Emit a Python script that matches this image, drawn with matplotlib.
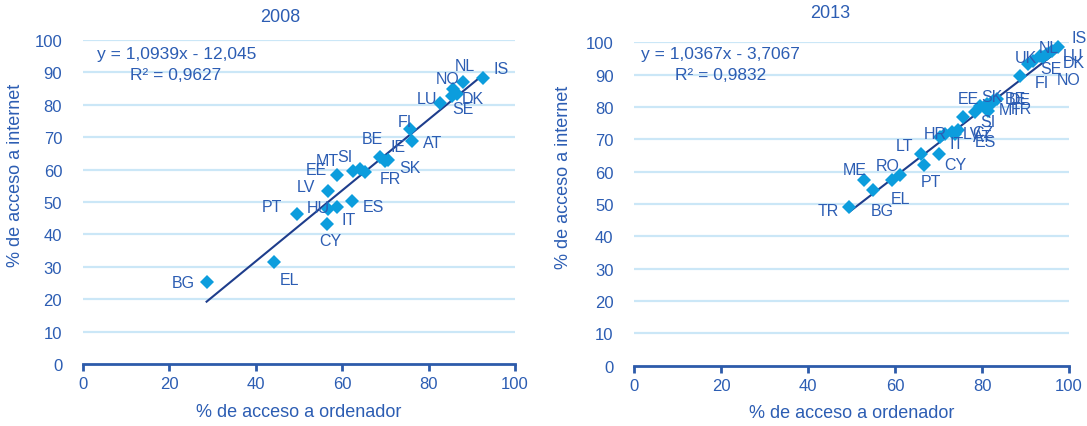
import matplotlib.pyplot as plt
import numpy as np

plt.rcParams['font.family'] = ['Liberation Sans', 'DejaVu Sans']

# 2008
paises_08 = ['IS', 'NL', 'NO', 'DK', 'SE', 'LU', 'FI', 'AT', 'BE', 'IE', 'SK', 'FR',
             'MT', 'SI', 'EE', 'LV', 'ES', 'IT', 'HU', 'PT', 'CY', 'EL', 'BG']
ordenador_08 = [92.6, 88.0, 85.7, 86.5, 85.3, 82.6, 75.7, 76.1, 68.8, 70.7, 70.0, 65.3,
                62.6, 64.1, 58.7, 56.8, 62.2, 58.7, 56.8, 49.5, 56.4, 44.1, 28.6]
internet_08 = [88.3, 86.9, 84.9, 83.3, 82.8, 80.6, 72.5, 68.9, 63.8, 63.1, 62.8, 59.2,
               59.7, 60.2, 58.4, 53.5, 50.4, 48.4, 47.8, 46.3, 43.2, 31.4, 25.2]
recta_08 = (1.0939, -12.045)
texto_08 = ['y = 1,0939x - 12,045', 'R² = 0,9627']

# 2013
paises_13 = ['IS', 'NL', 'LU', 'DK', 'NO', 'UK', 'SE', 'FI', 'EE', 'SK', 'BE', 'DE',
             'MT', 'FR', 'SI', 'AT', 'HR', 'IT', 'LV', 'CZ', 'ES', 'LT', 'CY', 'PT',
             'RO', 'EL', 'ME', 'BG', 'TR']
ordenador_13 = [97.5, 96.0, 94.9, 93.3, 94.1, 91.8, 90.6, 88.7, 79.5, 81.1, 82.6, 83.4,
                81.4, 82.0, 78.4, 75.7, 71.5, 70.3, 73.0, 74.5, 73.8, 65.9, 70.2, 66.6,
                61.1, 59.2, 52.9, 54.8, 49.5]
internet_13 = [98.4, 97.4, 96.4, 95.9, 95.4, 94.3, 93.3, 89.7, 80.4, 80.9, 82.0, 82.5,
               78.9, 81.0, 78.4, 76.8, 71.7, 70.6, 72.3, 72.8, 71.6, 65.5, 65.4, 62.2,
               58.9, 57.3, 57.5, 54.2, 49.1]
recta_13 = (1.0367, -3.7067)
texto_13 = ['y = 1,0367x - 3,7067', 'R² = 0,9832']

# desplazamiento de las etiquetas (pixeles)
desp_08 = {'IS': (18, 9), 'NL': (2, 17), 'NO': (-6, 10), 'DK': (16, -4), 'SE': (11, -13),
           'LU': (-13, 4), 'FI': (-5, 8), 'AT': (21, -2), 'BE': (-8, 19), 'IE': (10, 13),
           'SK': (25, -7), 'FR': (25, -6), 'MT': (-26, 10), 'SI': (-15, 12), 'EE': (-20, 5),
           'LV': (-22, 4), 'ES': (22, -6), 'IT': (12, -12), 'HU': (-10, 2), 'PT': (-25, 7),
           'CY': (4, -16), 'EL': (16, -17), 'BG': (-23, 0)}
desp_13 = {'IS': (21, 10), 'NL': (-3, 3), 'LU': (26, -2), 'DK': (34, -7), 'NO': (25, -22),
           'UK': (-8, 3), 'SE': (23, -5), 'FI': (22, -7), 'EE': (-12, 7), 'SK': (5, 8),
           'BE': (22, 2), 'DE': (23, -1), 'MT': (22, 1), 'FR': (31, -5), 'SI': (13, -9),
           'AT': (19, -19), 'HR': (-10, 0), 'IT': (17, -6), 'LV': (20, -2), 'CZ': (25, -2),
           'ES': (30, -7), 'LT': (-16, 8), 'CY': (16, -10), 'PT': (7, -17), 'RO': (-12, 10),
           'EL': (9, -18), 'ME': (-10, 10), 'BG': (10, -20), 'TR': (-21, -4)}

C_TEXTO = '#2C5DB3'
C_PUNTO = '#0C9DDD'
C_RECTA = '#1E3D8C'
C_GRID = '#CBE7F7'
C_EJE = '#2D5BAA'

fig = plt.figure(figsize=(10.87, 4.27), dpi=100)


def panel(rect, paises, xs, ys, recta, desp):
    ax = fig.add_axes(rect)
    ax.set_xlim(0, 100)
    ax.set_ylim(0, 100)
    ax.set_xticks(np.arange(0, 101, 20))
    ax.set_yticks(np.arange(0, 101, 10))
    for v in range(10, 101, 10):
        ax.axhline(v, color=C_GRID, lw=1.6, zorder=0)
    for s in ['left', 'right', 'top']:
        ax.spines[s].set_visible(False)
    ax.spines['bottom'].set_color(C_EJE)
    ax.spines['bottom'].set_linewidth(2)
    ax.tick_params(axis='x', colors=C_EJE, length=5, width=2, direction='out',
                   labelsize=12, labelcolor=C_TEXTO, pad=4)
    ax.tick_params(axis='y', length=0, labelsize=12, labelcolor=C_TEXTO, pad=15)

    # recta de regresion
    xr = np.array([min(xs), max(xs)])
    ax.plot(xr, recta[0] * xr + recta[1], color=C_RECTA, lw=1.5, zorder=2)
    ax.plot(xs, ys, 'D', color=C_PUNTO, ms=7.5, mew=0, zorder=3, clip_on=False)

    for p, x, y in zip(paises, xs, ys):
        ax.annotate(p, (x, y), xytext=desp[p], textcoords='offset pixels',
                    ha='center', va='center', fontsize=11.5, color=C_TEXTO, zorder=4,
                    annotation_clip=False)
    ax.set_xlabel('% de acceso a ordenador', fontsize=13, color=C_TEXTO, labelpad=8)
    ax.set_ylabel('% de acceso a internet', fontsize=13, color=C_TEXTO)
    return ax


ax1 = panel([0.0764, 0.1452, 0.3974, 0.7588], paises_08, ordenador_08, internet_08,
            recta_08, desp_08)
ax2 = panel([0.5835, 0.1412, 0.4000, 0.7574], paises_13, ordenador_13, internet_13,
            recta_13, desp_13)
ax1.yaxis.set_label_coords(-0.136, 0.585)
ax2.yaxis.set_label_coords(-0.143, 0.585)

fig.text(280 / 1087, 1 - 18 / 427, '2008', ha='center', va='center', fontsize=13,
         color=C_TEXTO)
fig.text(830 / 1087, 1 - 13 / 427, '2013', ha='center', va='center', fontsize=13,
         color=C_TEXTO)

fig.text(177 / 1087, 1 - 55 / 427, texto_08[0], ha='center', va='center', fontsize=12.5,
         color=C_TEXTO)
fig.text(176 / 1087, 1 - 75 / 427, texto_08[1], ha='center', va='center', fontsize=12.5,
         color=C_TEXTO)
fig.text(720 / 1087, 1 - 55 / 427, texto_13[0], ha='center', va='center', fontsize=12.5,
         color=C_TEXTO)
fig.text(721 / 1087, 1 - 75 / 427, texto_13[1], ha='center', va='center', fontsize=12.5,
         color=C_TEXTO)

fig.savefig('out.png', dpi=100)
plt.close('all')
